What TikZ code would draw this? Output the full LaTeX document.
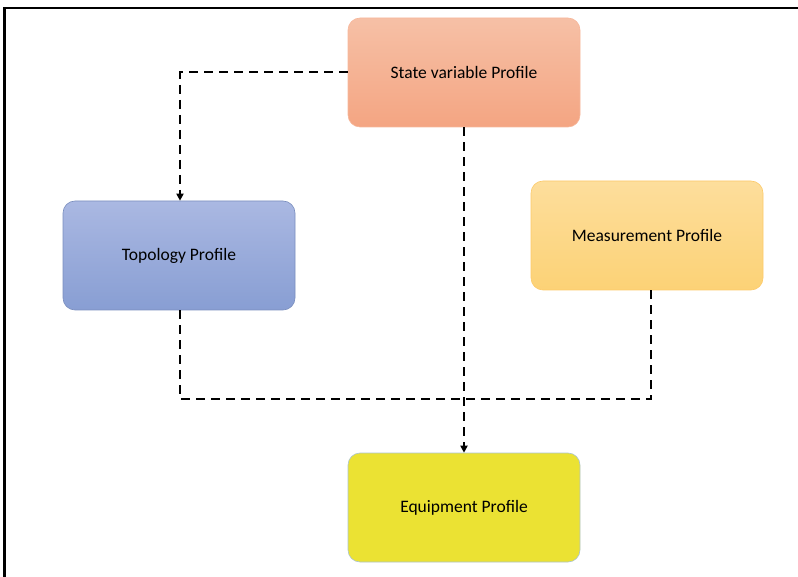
\documentclass[tikz,border=0pt]{standalone}
\usepackage{fontspec}
\setmainfont{Carlito}
\usetikzlibrary{arrows.meta}

\definecolor{stateTop}{HTML}{F6C0A6}
\definecolor{stateBot}{HTML}{F4A582}
\definecolor{topoTop}{HTML}{AAB8E2}
\definecolor{topoBot}{HTML}{889ED3}
\definecolor{measTop}{HTML}{FDDE9C}
\definecolor{measBot}{HTML}{FCD276}
\definecolor{equipFill}{HTML}{EBE233}

\tikzset{
  profile/.style={rounded corners=12pt, minimum width=232pt, minimum height=109pt,
    font=\fontsize{17.5}{21}\selectfont, align=center, line width=0.6pt},
  link/.style={line width=2pt, dash pattern=on 9pt off 6pt},
  tip/.style={-{Triangle[width=7pt,length=7pt]}}
}

\begin{document}
\begin{tikzpicture}[x=1pt,y=-1pt]
        \useasboundingbox (0,0) rectangle (798,577);
        % frame, only top and left edges show
        \draw[line width=2.5pt] (798,8) -- (4.5,8) -- (4.5,577);
        % the four profiles
        \node[profile, draw=stateBot!80!white, top color=stateTop, bottom color=stateBot]
          (state) at (464,72.5) {State variable Profile};
        \node[profile, draw=topoBot!90!black, top color=topoTop, bottom color=topoBot]
          (topo) at (179,255.5) {Topology Profile};
        \node[profile, draw=measBot!90!orange, top color=measTop, bottom color=measBot]
          (meas) at (647,235.5) {Measurement Profile};
        \node[profile, draw=cyan!30!gray!60, fill=equipFill]
          (equip) at (464,507.5) {Equipment Profile};
        % dashed links
        \coordinate (bend) at (180,72.5);
        \coordinate (lowleft) at (180,399);
        \coordinate (lowright) at (651,399);
        \draw[link, tip] (state.west) -- (bend) -- (bend |- topo.north);
        \draw[link, tip] (state.south) -- (equip.north);
        \draw[link] (lowleft |- topo.south) -- (lowleft) -- (lowright) -- (lowright |- meas.south);
    \end{tikzpicture}
\end{document}
